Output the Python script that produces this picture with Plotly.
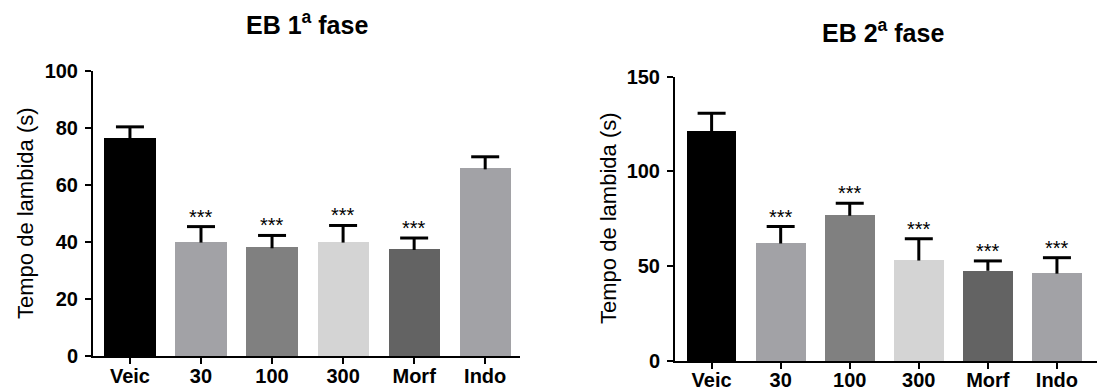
import plotly.graph_objects as go

categories = ["Veic", "30", "100", "300", "Morf", "Indo"]
colors = ["#000000", "#a2a2a6", "#808080", "#d4d4d4", "#636363", "#a2a2a6"]

fase1_mean = [76.6, 40.1, 38.1, 40.1, 37.5, 65.8]
fase1_err = [3.8, 5.3, 4.2, 5.7, 3.9, 4.1]
fase1_sig = ["", "***", "***", "***", "***", ""]

fase2_mean = [121.4, 62.3, 77.0, 53.3, 47.9, 46.4]
fase2_err = [9.3, 8.6, 6.2, 11.2, 4.9, 8.1]
fase2_sig = ["", "***", "***", "***", "***", "***"]

FONT = "Arial, Liberation Sans, sans-serif"
W, H = 1097, 392

fig = go.Figure()

for mean, err, xa, ya in [(fase1_mean, fase1_err, "x", "y"), (fase2_mean, fase2_err, "x2", "y2")]:
    xs = list(range(len(categories)))
    fig.add_trace(go.Bar(
        x=xs, y=mean,
        marker=dict(color=colors, line=dict(width=0)),
        width=0.72,
        xaxis=xa, yaxis=ya, showlegend=False, hoverinfo="skip",
    ))
    # upper-only error bars: stems
    sx, sy = [], []
    for i, (m, e) in enumerate(zip(mean, err)):
        sx += [i, i, None]
        sy += [m - 0.3, m + e, None]
    fig.add_trace(go.Scatter(x=sx, y=sy, mode="lines",
                             line=dict(color="black", width=3),
                             xaxis=xa, yaxis=ya, showlegend=False, hoverinfo="skip"))
    # caps
    fig.add_trace(go.Scatter(x=xs, y=[m + e for m, e in zip(mean, err)], mode="markers",
                             marker=dict(symbol="line-ew", size=20,
                                         line=dict(color="black", width=3)),
                             xaxis=xa, yaxis=ya, showlegend=False, hoverinfo="skip"))

axis_common = dict(showline=True, linecolor="black", linewidth=2,
                   ticks="outside", ticklen=6, tickwidth=2, tickcolor="black",
                   showgrid=False, zeroline=False, automargin=False)

fig.update_layout(
    width=W, height=H,
    margin=dict(l=0, r=0, t=0, b=0, pad=0),
    plot_bgcolor="white", paper_bgcolor="white",
    bargap=0,
    xaxis=dict(domain=[93 / W, 520 / W], range=[-0.52, 5.49],
               tickmode="array", tickvals=list(range(6)), ticktext=categories,
               tickfont=dict(family=FONT, size=20, color="black", weight="bold"),
               ticklabelstandoff=-5,
               anchor="y", **axis_common),
    yaxis=dict(domain=[(H - 356) / H, (H - 71) / H], range=[0, 100],
               tickvals=[0, 20, 40, 60, 80, 100],
               tickfont=dict(family=FONT, size=20, color="black", weight="bold"),
               ticklabelstandoff=3,
               anchor="x", **axis_common),
    xaxis2=dict(domain=[675 / W, 1.0], range=[-0.53, 5.58],
                tickmode="array", tickvals=list(range(6)), ticktext=categories,
                tickfont=dict(family=FONT, size=20, color="black", weight="bold"),
                ticklabelstandoff=-6,
                anchor="y2", **axis_common),
    yaxis2=dict(domain=[(H - 361) / H, (H - 76.7) / H], range=[0, 150],
                tickvals=[0, 50, 100, 150],
                tickfont=dict(family=FONT, size=20, color="black", weight="bold"),
                ticklabelstandoff=3,
                anchor="x2", **axis_common),
)

annotations = [
    dict(text="<b>EB 1<sup>a</sup> fase</b>", x=307 / W, y=1 - 23 / H, xref="paper", yref="paper",
         showarrow=False, xanchor="center", yanchor="middle",
         font=dict(family=FONT, size=25, color="black")),
    dict(text="<b>EB 2<sup>a</sup> fase</b>", x=883 / W, y=1 - 31 / H, xref="paper", yref="paper",
         showarrow=False, xanchor="center", yanchor="middle",
         font=dict(family=FONT, size=25, color="black")),
    dict(text="Tempo de lambida (s)", x=25 / W, y=1 - 213 / H, xref="paper", yref="paper",
         showarrow=False, textangle=-90, xanchor="center", yanchor="middle",
         font=dict(family=FONT, size=22, color="black")),
    dict(text="Tempo de lambida (s)", x=608 / W, y=1 - 218 / H, xref="paper", yref="paper",
         showarrow=False, textangle=-90, xanchor="center", yanchor="middle",
         font=dict(family=FONT, size=22, color="black")),
]

for mean, err, sig, xr, yr in [(fase1_mean, fase1_err, fase1_sig, "x", "y"),
                               (fase2_mean, fase2_err, fase2_sig, "x2", "y2")]:
    for i, s in enumerate(sig):
        if s:
            annotations.append(dict(text=s, x=i, y=mean[i] + err[i], xref=xr, yref=yr,
                                    showarrow=False, xanchor="center", yanchor="bottom",
                                    yshift=-3, font=dict(family=FONT, size=20, color="black")))

fig.update_layout(annotations=annotations)

fig.write_html("out.html", config={"displayModeBar": False},
               post_script="document.body.style.margin='0';")
